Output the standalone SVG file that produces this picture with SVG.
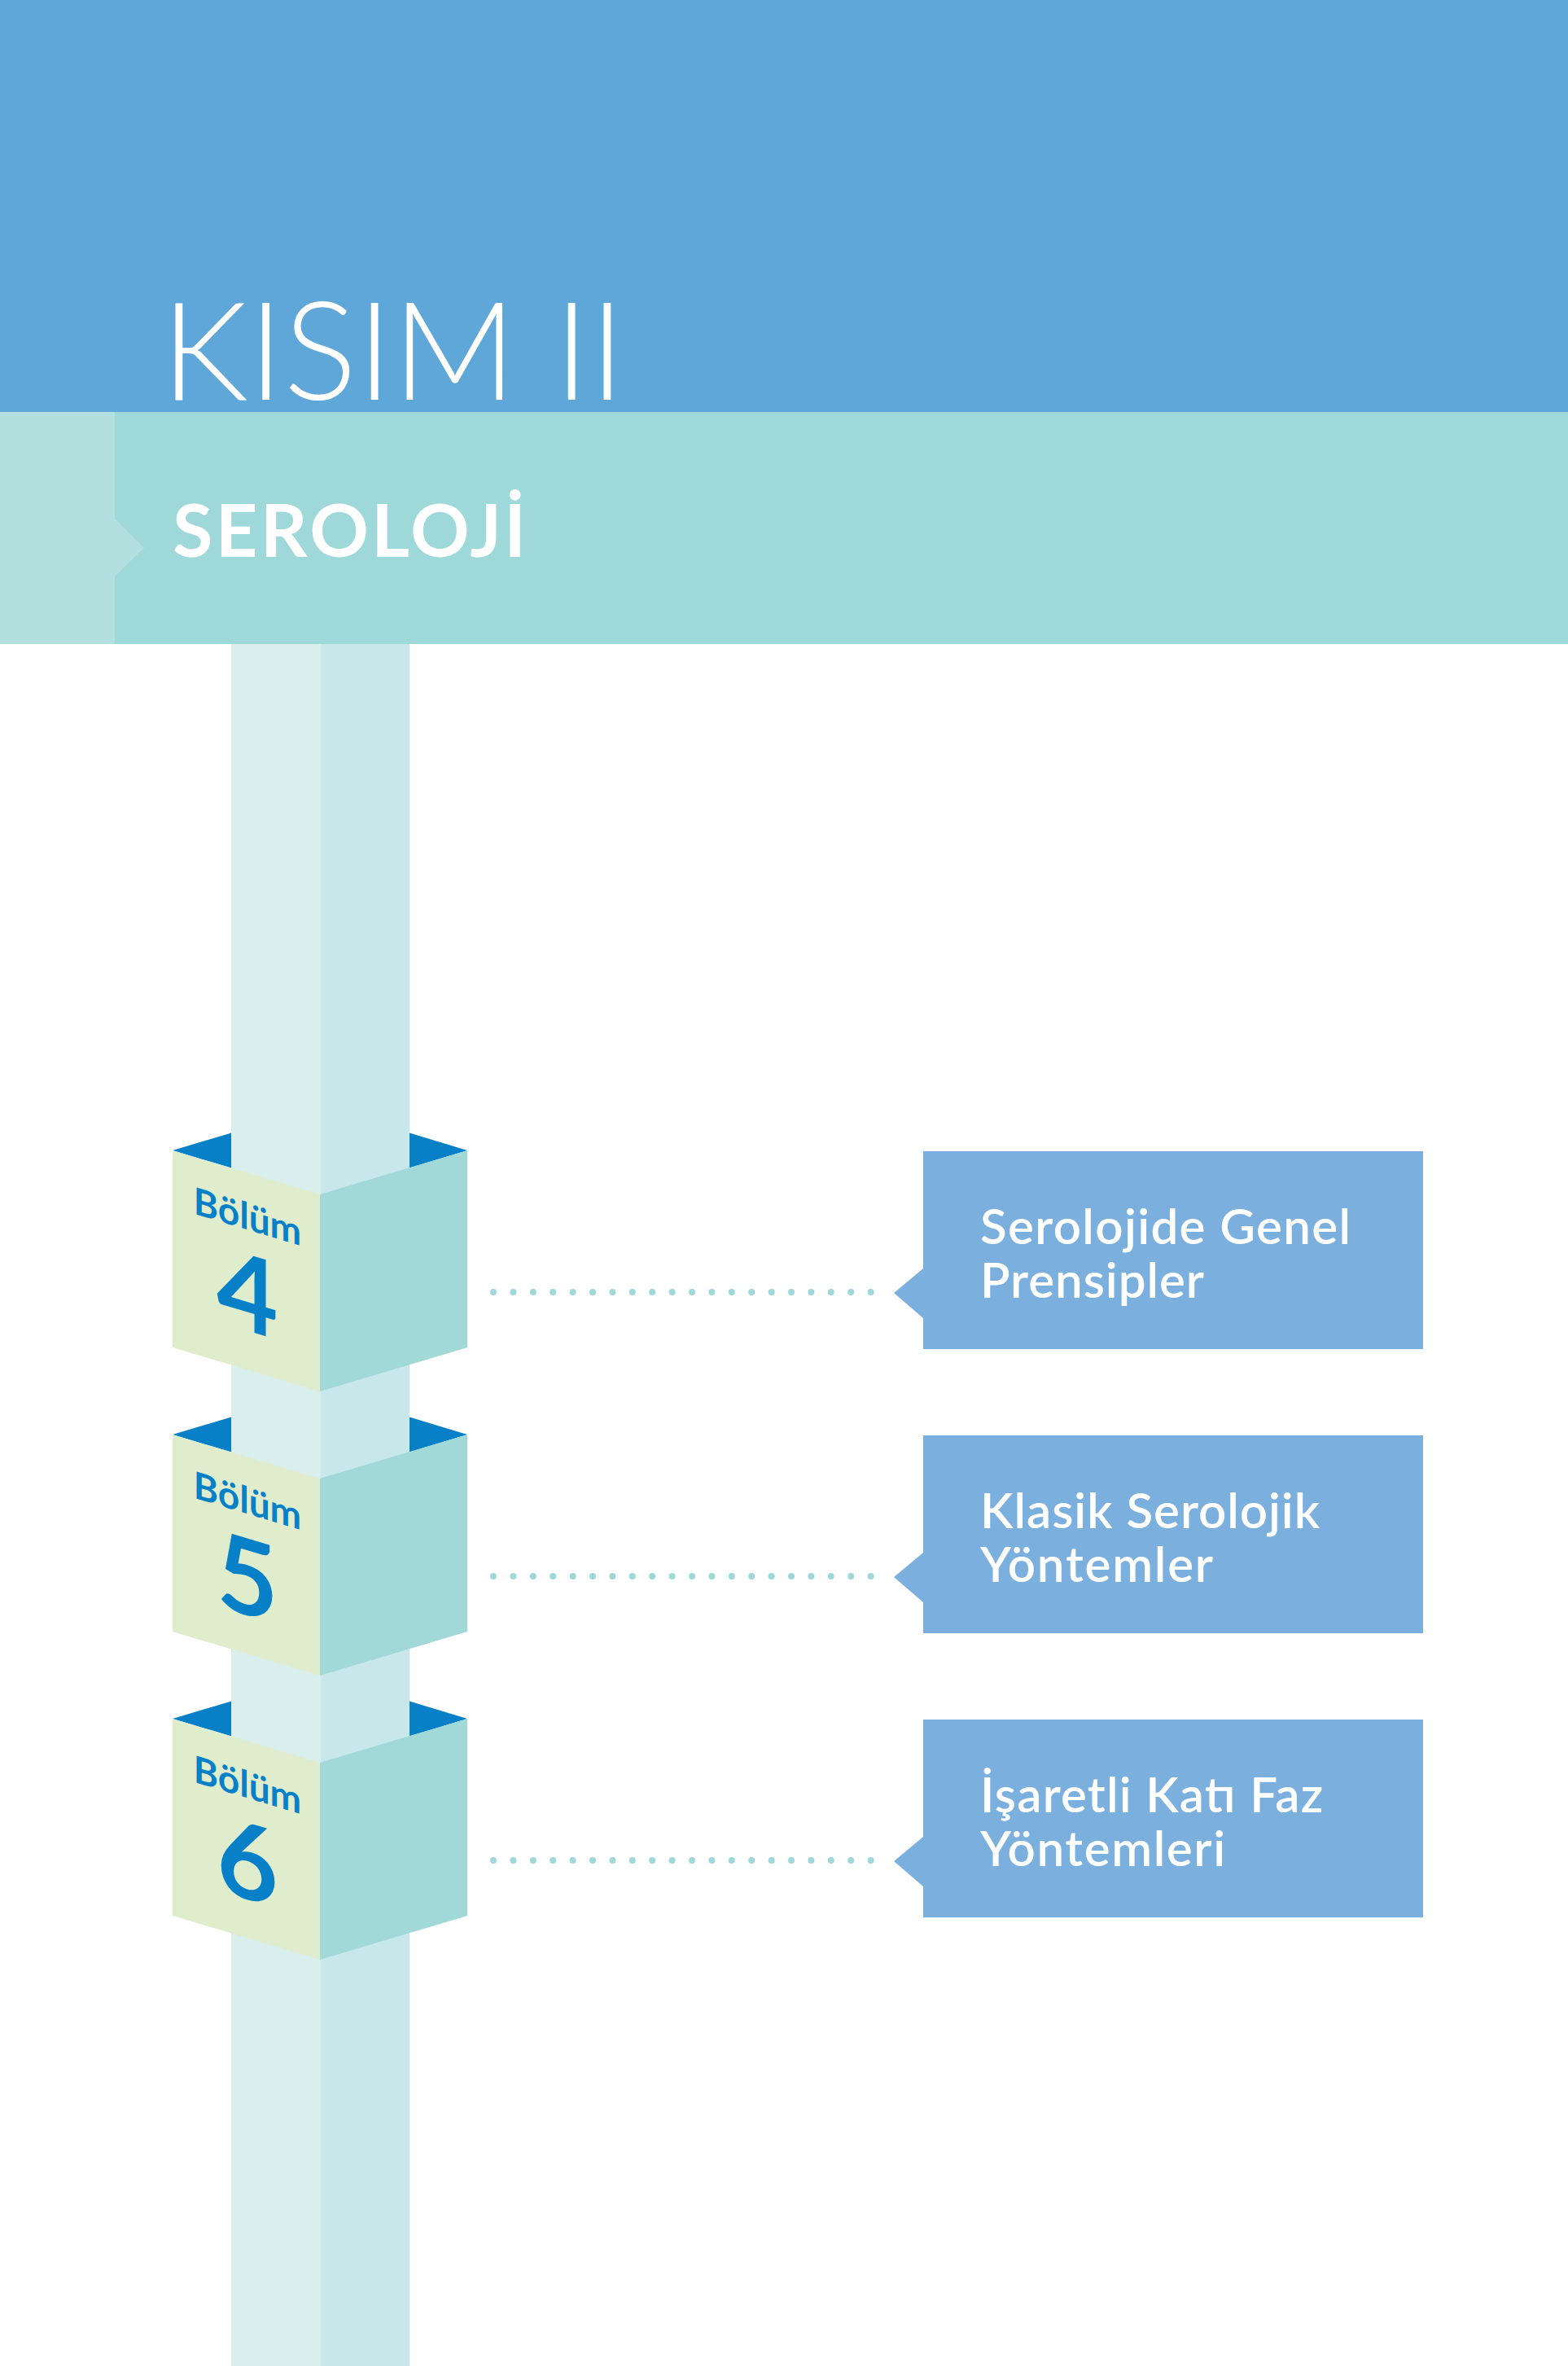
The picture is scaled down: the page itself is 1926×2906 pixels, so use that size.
<svg xmlns="http://www.w3.org/2000/svg" width="1926" height="2906" viewBox="0 0 1926 2906">
<defs>
<style>
.band-blue{fill:#5fa7d9}
.band-teal{fill:#9fd8d8}
.strip{fill:#b3dfde}
.pl{fill:#daeeee}
.pr{fill:#c7e7ea}
.back{fill:#0880c8}
.lface{fill:#dfedcd}
.rface{fill:#a0d9d8}
.call{fill:#7bb0de}
.dot{fill:#9fd8d8}
.title{font-family:Lato,"Open Sans","Liberation Sans",sans-serif;font-weight:300;font-size:168px;fill:#ffffff}
.sub{font-family:Lato,"Open Sans","Liberation Sans",sans-serif;font-weight:700;font-size:90px;fill:#ffffff}
.bolum{font-family:Lato,"Open Sans","Liberation Sans",sans-serif;font-weight:700;font-size:46px;fill:#0880c8}
.num{font-family:Lato,"Open Sans","Liberation Sans",sans-serif;font-weight:700;font-size:130px;fill:#0880c8}
.ct{font-family:Lato,"Open Sans","Liberation Sans",sans-serif;font-weight:600;font-size:60px;fill:#ffffff}
</style>
<g id="dots">
<circle class="dot" cx="606" cy="0" r="4"/><circle class="dot" cx="630.4" cy="0" r="4"/><circle class="dot" cx="654.8" cy="0" r="4"/><circle class="dot" cx="679.2" cy="0" r="4"/><circle class="dot" cx="703.6" cy="0" r="4"/><circle class="dot" cx="728" cy="0" r="4"/><circle class="dot" cx="752.4" cy="0" r="4"/><circle class="dot" cx="776.8" cy="0" r="4"/><circle class="dot" cx="801.2" cy="0" r="4"/><circle class="dot" cx="825.6" cy="0" r="4"/><circle class="dot" cx="850" cy="0" r="4"/><circle class="dot" cx="874.4" cy="0" r="4"/><circle class="dot" cx="898.8" cy="0" r="4"/><circle class="dot" cx="923.2" cy="0" r="4"/><circle class="dot" cx="947.6" cy="0" r="4"/><circle class="dot" cx="972" cy="0" r="4"/><circle class="dot" cx="996.4" cy="0" r="4"/><circle class="dot" cx="1020.8" cy="0" r="4"/><circle class="dot" cx="1045.2" cy="0" r="4"/><circle class="dot" cx="1069.6" cy="0" r="4"/>
</g>
</defs>
<rect width="1926" height="2906" fill="#ffffff"/>
<g id="header">
<rect class="band-blue" x="0" y="0" width="1926" height="507"/>
<rect class="band-teal" x="0" y="506" width="1926" height="285"/>
<polygon class="strip" points="0,506 141,506 141,637 177,673 141,708 141,791 0,791"/>
<text class="title" x="198" y="491">KISIM II</text>
<text class="sub" x="212" y="684" textLength="434" lengthAdjust="spacing">SEROLOJİ</text>
</g>
<g id="pillar">
<polygon class="back" points="212,1413 284,1391.5 284,1434.5"/>
<polygon class="back" points="503,1391.5 574,1413 503,1434.5"/>
<polygon class="back" points="212,1762 284,1740.5 284,1783.5"/>
<polygon class="back" points="503,1740.5 574,1762 503,1783.5"/>
<polygon class="back" points="212,2111 284,2089.5 284,2132.5"/>
<polygon class="back" points="503,2089.5 574,2111 503,2132.5"/>
<rect class="pl" x="284" y="791" width="110" height="2115"/>
<rect class="pr" x="394" y="791" width="109" height="2115"/>
</g>
<g id="chapter4">
<polygon class="lface" points="212,1413 393,1467 393,1709 212,1655"/>
<polygon class="rface" points="393,1467 574,1413 574,1655 393,1709"/>
<g transform="translate(212,1413) skewY(16.6)">
<text class="bolum" x="92" y="70" text-anchor="middle">Bölüm</text>
<text class="num" x="92" y="194" text-anchor="middle">4</text>
</g>
</g>
<g id="chapter5">
<polygon class="lface" points="212,1762 393,1816 393,2058 212,2004"/>
<polygon class="rface" points="393,1816 574,1762 574,2004 393,2058"/>
<g transform="translate(212,1762) skewY(16.6)">
<text class="bolum" x="92" y="70" text-anchor="middle">Bölüm</text>
<text class="num" x="92" y="194" text-anchor="middle">5</text>
</g>
</g>
<g id="chapter6">
<polygon class="lface" points="212,2111 393,2165 393,2407 212,2353"/>
<polygon class="rface" points="393,2165 574,2111 574,2353 393,2407"/>
<g transform="translate(212,2111) skewY(16.6)">
<text class="bolum" x="92" y="70" text-anchor="middle">Bölüm</text>
<text class="num" x="92" y="194" text-anchor="middle">6</text>
</g>
</g>
<g id="connectors">
<use href="#dots" y="1587"/>
<use href="#dots" y="1936"/>
<use href="#dots" y="2285"/>
</g>
<g id="callout1">
<polygon class="call" points="1134,1414 1748,1414 1748,1657 1134,1657 1134,1619 1098,1588 1134,1558"/>
<text class="ct" x="1204" y="1528" textLength="455" lengthAdjust="spacing">Serolojide Genel</text>
<text class="ct" x="1204" y="1594" textLength="275" lengthAdjust="spacing">Prensipler</text>
</g>
<g id="callout2">
<polygon class="call" points="1134,1763 1748,1763 1748,2006 1134,2006 1134,1968 1098,1937 1134,1907"/>
<text class="ct" x="1204" y="1877" textLength="417" lengthAdjust="spacing">Klasik Serolojik</text>
<text class="ct" x="1204" y="1943" textLength="286" lengthAdjust="spacing">Yöntemler</text>
</g>
<g id="callout3">
<polygon class="call" points="1134,2112 1748,2112 1748,2355 1134,2355 1134,2317 1098,2286 1134,2256"/>
<text class="ct" x="1204" y="2226" textLength="421" lengthAdjust="spacing">İşaretli Katı Faz</text>
<text class="ct" x="1204" y="2292" textLength="301" lengthAdjust="spacing">Yöntemleri</text>
</g>
</svg>
